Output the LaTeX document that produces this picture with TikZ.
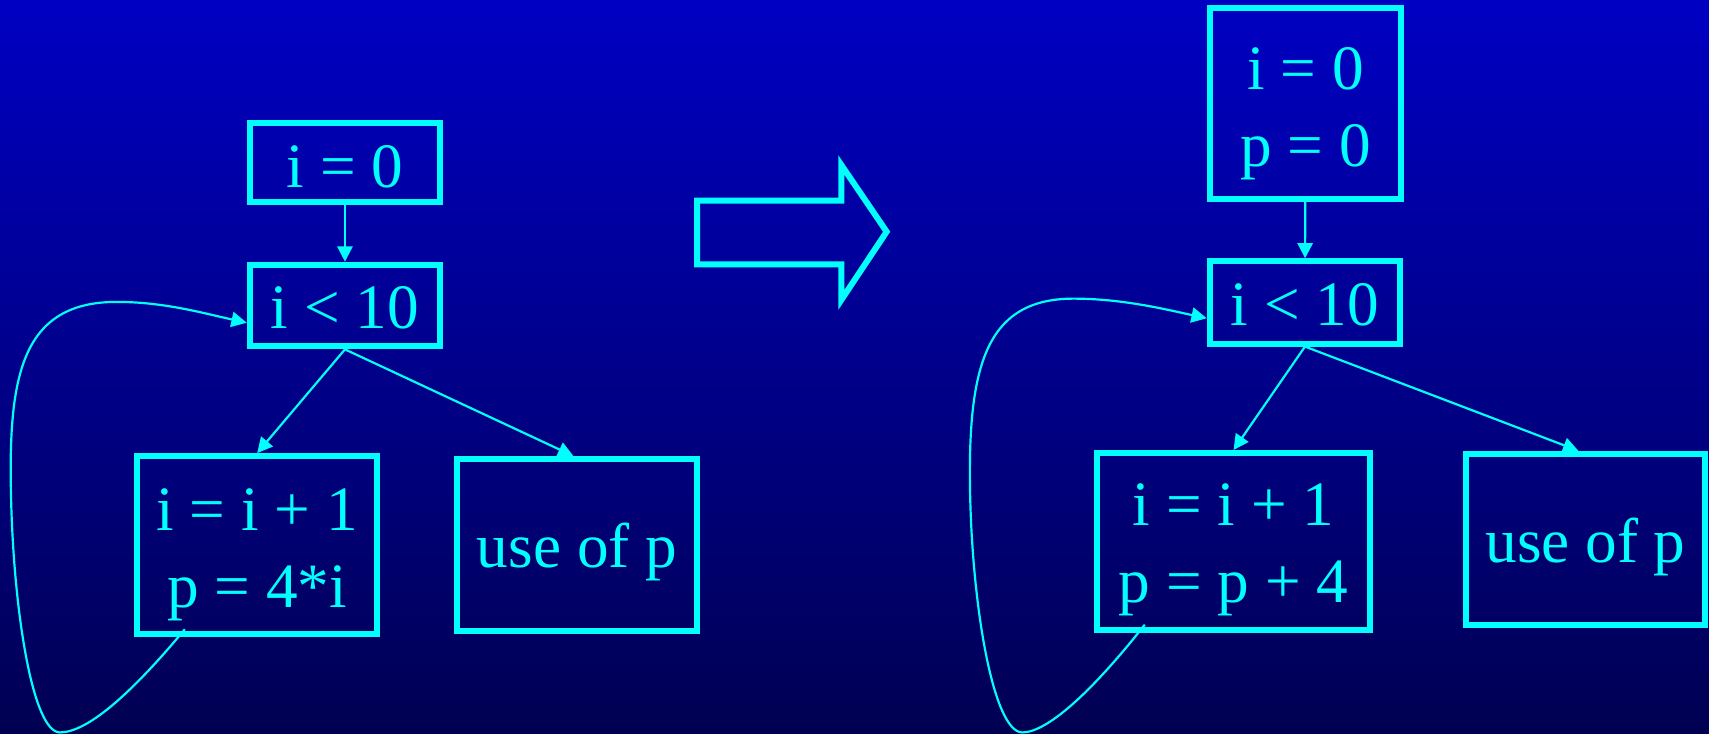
\documentclass[tikz,border=0pt]{standalone}
\usepackage{fontspec}
\setmainfont{Liberation Serif}
\usetikzlibrary{arrows.meta}
\definecolor{cy}{RGB}{0,255,255}
\definecolor{bgtop}{RGB}{0,0,195}
\definecolor{bgbot}{RGB}{0,0,82}
\begin{document}
\begin{tikzpicture}[x=0.5pt,y=-0.5pt,
  blk/.style={draw=cy, line width=2.75pt, text=cy, inner sep=0pt, font=\fontsize{29}{35}\selectfont, align=center},
  one/.style={text height=21pt, text depth=0pt},
  edge/.style={draw=cy, line width=1pt, -{Triangle[length=7pt,width=7pt]}},
  bigarrow/.style={draw=cy, line width=2.75pt, line join=miter}]
\shade[top color=bgtop, bottom color=bgbot] (0,0) rectangle (1568,673);
\useasboundingbox (0,0) rectangle (1568,673);
% left graph
\node[blk, one, text height=22.5pt, minimum width=87.4pt, minimum height=36.25pt] (a0) at (316.5,149.1) {i = 0};
\node[blk, one, minimum width=87.4pt, minimum height=37.5pt] (a1) at (316.5,280.3) {i < 10};
\node[blk, minimum width=110pt, minimum height=81.6pt] (a2) at (236,500) {\rule{0pt}{28.3pt}i = i + 1\\p = 4*i};
\node[blk, one, minimum width=110pt, minimum height=78.9pt] (a3) at (529.4,500) {use of p};
\draw[edge] (a0) -- (a1);
\draw[edge] (a1.south) -- (a2.north);
\draw[edge] (a1.south) -- ([xshift=-1.7pt]a3.north);
\coordinate (la) at ([xshift=-33.2pt,yshift=3.5pt]a2.south);
\draw[edge] (la) .. controls (120,637) and (80,672) .. (55,672) .. controls (30,672) and (12,560) .. (10,450) .. controls (8,345) and (20,277) .. (107,277) .. controls (150,277) and (185,287) .. ([yshift=-7.9pt]a1.west);
% big arrow
\draw[bigarrow] (639.5,184) -- (772,184) -- (772,151.5) -- (813.5,212.6) -- (772,275) -- (772,242.5) -- (639.5,242.5) -- cycle;
% right graph
\node[blk, minimum width=87.6pt, minimum height=87.6pt, font=\fontsize{29}{35.5}\selectfont] (b0) at (1197.8,95) {\rule{0pt}{28.8pt}i = 0\\p = 0};
\node[blk, one, minimum width=87.4pt, minimum height=37.75pt] (b1) at (1197.3,277.5) {i < 10};
\node[blk, minimum width=125.2pt, minimum height=81.2pt, font=\fontsize{29}{35.25}\selectfont] (b2) at (1131.8,496.8) {\rule{0pt}{27pt}i = i + 1\\p = p + 4};
\node[blk, one, minimum width=110pt, minimum height=78.7pt] (b3) at (1454.7,495) {use of p};
\draw[edge] (b0) -- (b1);
\draw[edge] (b1.south) -- (b2.north);
\draw[edge] (b1.south) -- ([xshift=-3.3pt]b3.north);
\coordinate (lb) at ([xshift=-40.75pt,yshift=3.8pt]b2.south);
\draw[edge] (lb) .. controls (1000,637) and (960,672) .. (938,672) .. controls (912,672) and (892,560) .. (890,450) .. controls (888,335) and (905,274) .. (985,274) .. controls (1030,274) and (1070,284) .. ([yshift=-7.25pt]b1.west);
\end{tikzpicture}
\end{document}
